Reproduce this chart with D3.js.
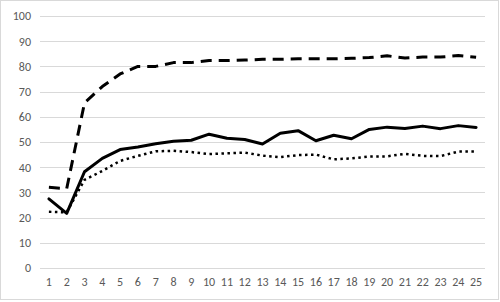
<!DOCTYPE html>
<html>
<head>
<meta charset="utf-8">
<script src="https://cdn.jsdelivr.net/npm/d3@7"></script>
<style>
  html, body { margin: 0; padding: 0; background: #fff; }
  svg { display: block; }
  text { font-family: Carlito, "Liberation Sans Narrow", "Liberation Sans", Arial, sans-serif; }
</style>
</head>
<body>
<svg id="chart"></svg>
<script>
// data
const categories = d3.range(1, 26);
const yTicks = [0, 10, 20, 30, 40, 50, 60, 70, 80, 90, 100];

const dashedValues = [32, 31.5, 65.5, 72, 77, 80, 80, 81.5, 81.5, 82.3, 82.3, 82.5, 82.8,
    82.8, 83, 83, 83, 83.2, 83.5, 84.2, 83.3, 83.7, 83.7, 84.3, 83.6];
const solidValues = [27.4, 21.7, 38.2, 43.5, 47, 48, 49.3, 50.3, 50.7, 53.1, 51.5, 51, 49.2,
    53.5, 54.5, 50.5, 52.7, 51.3, 55, 55.9, 55.4, 56.3, 55.3, 56.5, 55.8];
const dottedValues = [22.3, 22.1, 35, 38.5, 42.5, 44.5, 46.3, 46.5, 46, 45.2, 45.5, 45.8, 44.6,
    44, 44.8, 45, 43.1, 43.5, 44.2, 44.3, 45.3, 44.5, 44.4, 46.2, 46.2];

const width = 500, height = 302;
const margin = {top: 16, right: 15, bottom: 34, left: 40};

const svg = d3.select("svg#chart")
    .attr("width", width)
    .attr("height", height);

// chart area border
svg.append("rect")
    .attr("x", 0.5)
    .attr("y", 0.5)
    .attr("width", width - 2)
    .attr("height", height - 3)
    .attr("fill", "#fff")
    .attr("stroke", "#d9d9d9");

const x = d3.scaleBand()
    .domain(categories)
    .range([margin.left, width - margin.right]);

const y = d3.scaleLinear()
    .domain([0, 100])
    .range([height - margin.bottom, margin.top]);

// gridlines
svg.append("g")
    .attr("class", "grid")
    .selectAll("line")
    .data(yTicks)
    .enter()
    .append("line")
    .attr("x1", margin.left)
    .attr("x2", width - margin.right)
    .attr("y1", d => Math.round(y(d)) + 0.5)
    .attr("y2", d => Math.round(y(d)) + 0.5)
    .attr("stroke", "#d9d9d9")
    .attr("stroke-width", 1);

// y axis labels
const yAxis = svg.append("g")
    .attr("transform", `translate(${margin.left}, 0)`)
    .call(d3.axisLeft(y).tickValues(yTicks).tickSize(0).tickPadding(9));
yAxis.select(".domain").remove();
yAxis.selectAll("text")
    .attr("fill", "#595959")
    .style("font-size", "12px");

// x axis labels
const xAxis = svg.append("g")
    .attr("transform", `translate(0, ${height - margin.bottom})`)
    .call(d3.axisBottom(x).tickSize(0).tickPadding(9));
xAxis.select(".domain").remove();
xAxis.selectAll("text")
    .attr("fill", "#595959")
    .style("font-size", "12px");

const line = d3.line()
    .x((d, i) => x(categories[i]) + x.bandwidth() / 2)
    .y(d => y(d));

const series = [
    {values: dashedValues, width: 3, dash: "11 7", cap: "butt"},
    {values: dottedValues, width: 2.5, dash: "2.5 3.5", cap: "butt"},
    {values: solidValues, width: 3, dash: null, cap: "round"}
];

svg.append("g")
    .attr("class", "lines")
    .selectAll("path")
    .data(series)
    .enter()
    .append("path")
    .attr("d", d => line(d.values))
    .attr("fill", "none")
    .attr("stroke", "#000")
    .attr("stroke-width", d => d.width)
    .attr("stroke-dasharray", d => d.dash)
    .attr("stroke-linecap", d => d.cap)
    .attr("stroke-linejoin", "round");
</script>
</body>
</html>
